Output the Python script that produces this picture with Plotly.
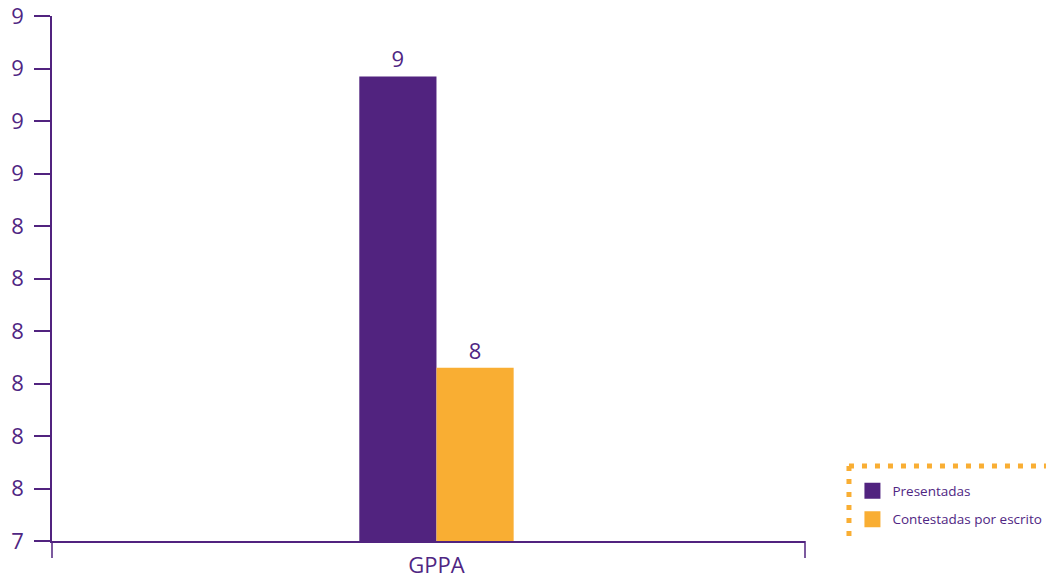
import plotly.graph_objects as go

categories = ["GPPA"]
presentadas = [9.07]
contestadas = [7.96]
series_names = ["Presentadas", "Contestadas por escrito"]
tick_values = [7.3, 7.5, 7.7, 7.9, 8.1, 8.3, 8.5, 8.7, 8.9, 9.1, 9.3]
tick_labels = ["7", "8", "8", "8", "8", "8", "8", "9", "9", "9", "9"]

PURPLE = "#51237F"
ORANGE = "#F9AE33"
TEXT = "#4F2683"
FONT = "Open Sans"

fig = go.Figure()
for name, vals, col in [(series_names[0], presentadas, PURPLE),
                        (series_names[1], contestadas, ORANGE)]:
    fig.add_trace(go.Bar(
        x=categories, y=vals, name=name, marker_color=col,
        marker_line_width=0,
        texttemplate="%{y:.0f}", textposition="outside",
        textfont=dict(size=22, color=TEXT, family=FONT),
        cliponaxis=False, showlegend=False,
    ))
    fig.add_trace(go.Scatter(
        x=[None], y=[None], mode="markers", name=name,
        marker=dict(symbol="square", size=16, color=col),
        legendgroup=name,
    ))

dot = dict(color=ORANGE, width=5, dash="5px,8px")
tick_line = dict(color=PURPLE, width=1.5)

fig.update_layout(
    width=1046, height=584,
    margin=dict(l=52, r=241, t=16, b=43, autoexpand=False),
    paper_bgcolor="white", plot_bgcolor="white",
    barmode="group", bargap=0.795, bargroupgap=0,
    font=dict(family=FONT, color=TEXT),
    legend=dict(
        x=1.063, xanchor="left", y=0.125, yanchor="top",
        font=dict(size=13.5, color=TEXT, family=FONT),
        traceorder="grouped", tracegroupgap=8,
        bgcolor="rgba(0,0,0,0)",
    ),
    xaxis=dict(
        automargin=False,
        range=[-0.5106, 0.4894],
        showline=True, linecolor=PURPLE, linewidth=1.5,
        ticks="", ticklabelstandoff=4,
        tickfont=dict(size=22, color=TEXT, family=FONT),
        showgrid=False, zeroline=False,
    ),
    yaxis=dict(
        automargin=False,
        range=[tick_values[0] - 1e-6, tick_values[-1] + 1e-6],
        tickvals=tick_values, ticktext=tick_labels,
        showline=True, linecolor=PURPLE, linewidth=1.5,
        ticks="outside", ticklen=16, tickcolor=PURPLE, tickwidth=1.5,
        ticklabelstandoff=6, ticklabeloverflow="allow",
        tickfont=dict(size=22, color=TEXT, family=FONT),
        showgrid=False, zeroline=False,
    ),
    shapes=[
        dict(type="line", xref="paper", yref="paper",
             x0=0, x1=0, y0=0, y1=-0.0324, line=tick_line),
        dict(type="line", xref="paper", yref="paper",
             x0=1, x1=1, y0=0, y1=-0.0324, line=tick_line),
        dict(type="line", xref="paper", yref="paper",
             x0=1.0584, x1=1.320, y0=0.1429, y1=0.1429, line=dot),
        dict(type="line", xref="paper", yref="paper",
             x0=1.0584, x1=1.0584, y0=0.1429, y1=-0.004, line=dot),
    ],
)

fig.write_html("out.html", config={"displayModeBar": False},
               post_script="document.body.style.margin='0';")
